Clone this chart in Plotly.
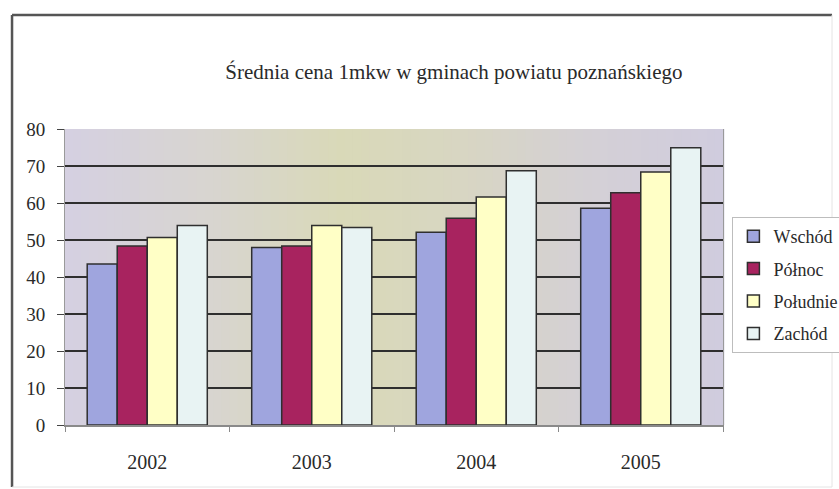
import plotly.graph_objects as go

# Average price per square metre in the municipalities of the Poznań district
years = ["2002", "2003", "2004", "2005"]
wschod = [43.5, 48.0, 52.1, 58.6]
polnoc = [48.4, 48.4, 55.9, 62.8]
poludnie = [50.7, 53.9, 61.6, 68.4]
zachod = [53.9, 53.4, 68.7, 74.9]

series = [
    ("Wschód", wschod, "#9FA5DE"),
    ("Północ", polnoc, "#A8235F"),
    ("Południe", poludnie, "#FFFFC6"),
    ("Zachód", zachod, "#E8F3F3"),
]

SERIF = "Liberation Serif"

fig = go.Figure()
for name, vals, color in series:
    fig.add_trace(go.Bar(
        x=years, y=vals, name=name, legendgroup=name,
        marker=dict(color=color, line=dict(color="#2f2f2f", width=1.5)),
    ))


def mix(c1, c2, t):
    a = [int(c1[i:i + 2], 16) for i in (1, 3, 5)]
    b = [int(c2[i:i + 2], 16) for i in (1, 3, 5)]
    return "#" + "".join(f"{round(a[k] + (b[k] - a[k]) * t):02x}" for k in range(3))


# plot-area background: soft lavender / khaki horizontal gradient
stops = [(0.0, "#D5D0E2"), (0.22, "#D8D5D0"), (0.42, "#D9D9B8"),
         (0.6, "#D8D6C2"), (0.8, "#D4D0D6"), (1.0, "#D0CCDE")]
shapes = []
n = 80
for i in range(n):
    x0, x1 = i / n, (i + 1) / n
    xm = (x0 + x1) / 2
    for (p0, c0), (p1, c1) in zip(stops[:-1], stops[1:]):
        if p0 <= xm <= p1:
            col = mix(c0, c1, (xm - p0) / (p1 - p0))
            break
    shapes.append(dict(type="rect", xref="paper", yref="paper",
                       x0=x0, x1=x1 + 0.002, y0=0, y1=1,
                       fillcolor=col, line=dict(width=0), layer="below"))

# outer chart frame
fl, fr, ft, fb = -0.0805, 1.1657, 1.385, -0.2095
shapes += [
    dict(type="line", xref="paper", yref="paper", x0=fl, x1=fl, y0=fb, y1=ft,
         line=dict(color="#555555", width=2.5)),
    dict(type="line", xref="paper", yref="paper", x0=fl, x1=fr, y0=ft, y1=ft,
         line=dict(color="#555555", width=2.5)),
    dict(type="line", xref="paper", yref="paper", x0=fr, x1=fr, y0=fb, y1=ft,
         line=dict(color="#e4e4e4", width=1)),
    dict(type="line", xref="paper", yref="paper", x0=fl, x1=fr, y0=fb, y1=fb,
         line=dict(color="#e4e4e4", width=1)),
]

fig.update_layout(
    width=839, height=489,
    margin=dict(l=65, r=116, t=129, b=64, autoexpand=False),
    paper_bgcolor="white",
    plot_bgcolor="rgba(0,0,0,0)",
    bargap=0.27, bargroupgap=0,
    font=dict(family=SERIF, size=19, color="#2a2a2a"),
    title=dict(text="Średnia cena 1mkw w gminach powiatu poznańskiego",
               font=dict(family=SERIF, size=21, color="#2a2a2a"),
               xref="container", yref="container",
               x=0.541, xanchor="center", y=1 - 72 / 489, yanchor="middle"),
    shapes=shapes,
    showlegend=True,
    legend=dict(x=1.0143, xanchor="left", y=0.7027, yanchor="top",
                bgcolor="white", bordercolor="#bdbdbd", borderwidth=1,
                font=dict(family=SERIF, size=18, color="#2a2a2a"),
                tracegroupgap=6, itemwidth=30),
    xaxis=dict(type="category", showgrid=False, zeroline=False,
               showline=True, linecolor="#8a8a8a", linewidth=1.5,
               ticks="outside", tickson="boundaries", ticklen=5,
               tickcolor="#8a8a8a", ticklabelstandoff=18,
               tickfont=dict(family=SERIF, size=20, color="#2a2a2a")),
    yaxis=dict(range=[0, 80], dtick=10, showgrid=True,
               gridcolor="#2f2f2f", gridwidth=1.5, zeroline=False,
               showline=True, linecolor="#9a9a9a", linewidth=1, mirror=True,
               ticks="outside", ticklen=7, tickcolor="#444444",
               ticklabelstandoff=8,
               tickfont=dict(family=SERIF, size=19, color="#2a2a2a")),
)

fig.write_html("out.html")
